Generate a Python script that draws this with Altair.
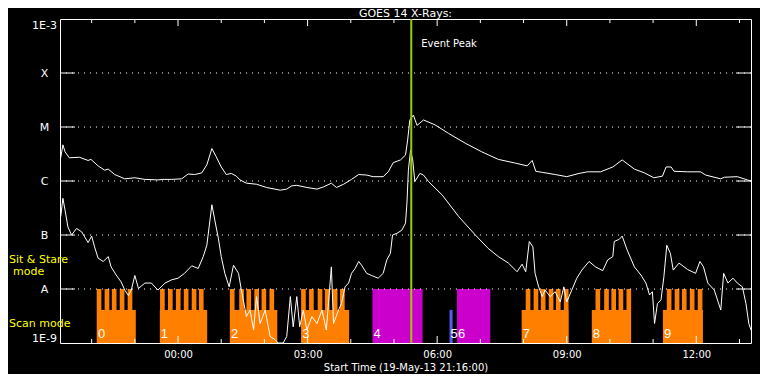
import altair as alt
import numpy as np
import pandas as pd

# ---------------- data ----------------
# time axis: minutes after the start time 19-May-13 21:16:00
# GOES 14 long channel (1-8 A), log10 flux in W/m^2
long_t = [1, 4, 7, 13, 27, 39, 43, 53, 62, 67,
          76, 90, 104, 118, 136, 143, 155, 169, 178, 187,
          197, 204, 211, 217, 224, 231, 238, 245, 250, 259,
          273, 287, 306, 315, 322, 329, 343, 357, 366, 377,
          384, 394, 405, 415, 426, 435, 449, 456, 463, 473,
          480, 483, 486, 491, 496, 505, 521, 540, 563, 586,
          609, 633, 649, 656, 661, 670, 688, 704, 721, 733,
          751, 768, 781, 798, 812, 825, 837, 842, 849, 853,
          872, 890, 897, 918, 923, 941, 955, 960]
long_v = [-5.57, -5.33, -5.46, -5.57, -5.56, -5.62, -5.60, -5.72, -5.80, -5.78,
          -5.88, -5.96, -5.94, -5.97, -5.98, -5.97, -5.97, -5.96, -5.87, -5.88,
          -5.85, -5.70, -5.40, -5.55, -5.74, -5.88, -5.86, -5.91, -5.98, -6.04,
          -6.06, -6.12, -6.17, -6.15, -6.09, -6.08, -6.12, -6.15, -6.11, -6.04,
          -6.12, -6.06, -5.97, -5.88, -5.89, -5.92, -5.92, -5.83, -5.66, -5.61,
          -5.52, -5.24, -4.87, -4.78, -4.97, -4.87, -4.96, -5.12, -5.30, -5.46,
          -5.60, -5.67, -5.72, -5.62, -5.82, -5.84, -5.88, -5.92, -5.86, -5.83,
          -5.83, -5.74, -5.61, -5.78, -5.85, -5.94, -5.91, -5.74, -5.74, -5.82,
          -5.83, -5.83, -5.89, -5.96, -5.93, -5.92, -5.98, -6.00]

# GOES 14 short channel (0.5-4 A), log10 flux in W/m^2
short_t = [1, 4, 7, 11, 16, 23, 30, 39, 44, 48,
           53, 60, 67, 71, 78, 85, 90, 95, 99, 104,
           109, 118, 127, 136, 146, 155, 164, 173, 183, 192,
           199, 204, 211, 215, 220, 224, 229, 235, 241, 248,
           252, 259, 264, 269, 273, 278, 285, 292, 299, 303,
           310, 315, 320, 324, 329, 333, 338, 343, 350, 357,
           364, 370, 377, 380, 387, 391, 396, 401, 405, 410,
           415, 419, 426, 433, 442, 449, 454, 459, 462, 468,
           475, 480, 482, 484, 487, 490, 493, 500, 505, 512,
           531, 554, 577, 595, 609, 623, 635, 642, 647, 652,
           657, 660, 665, 670, 674, 681, 688, 695, 700, 704,
           711, 718, 725, 735, 744, 754, 761, 768, 770, 777,
           781, 788, 798, 807, 814, 819, 823, 826, 830, 835,
           839, 843, 848, 852, 860, 872, 883, 889, 894, 900,
           909, 918, 922, 928, 935, 941, 948, 953, 957, 960]
short_v = [-6.66, -6.32, -6.54, -6.85, -7.00, -6.88, -6.94, -7.14, -7.02, -7.22,
           -7.43, -7.49, -7.40, -7.59, -7.74, -7.87, -8.02, -8.12, -8.02, -7.75,
           -7.99, -7.89, -7.89, -8.02, -7.89, -7.83, -7.80, -7.71, -7.57, -7.62,
           -7.40, -7.19, -6.44, -6.72, -7.06, -7.40, -7.71, -7.96, -7.56, -7.71,
           -8.02, -8.51, -8.39, -8.76, -8.14, -8.64, -8.39, -8.88, -8.94, -9.00,
           -9.00, -8.88, -8.14, -8.70, -8.14, -8.70, -8.39, -8.76, -8.51, -8.64,
           -8.39, -8.76, -7.59, -8.64, -8.39, -8.27, -7.96, -7.89, -7.71, -7.62,
           -7.49, -7.56, -7.71, -7.75, -7.80, -7.71, -7.46, -7.34, -7.00, -6.97,
           -6.91, -6.78, -6.41, -5.80, -5.43, -5.61, -6.01, -5.86, -5.89, -6.01,
           -6.26, -6.66, -7.00, -7.25, -7.40, -7.52, -7.68, -7.54, -7.68, -7.12,
           -7.22, -7.71, -7.96, -8.14, -8.02, -8.14, -8.05, -8.24, -7.96, -8.24,
           -8.02, -7.80, -7.65, -7.49, -7.59, -7.66, -7.46, -7.40, -7.12, -7.08,
           -7.02, -7.28, -7.59, -7.74, -7.89, -8.11, -8.05, -8.64, -8.27, -8.20,
           -7.77, -7.19, -7.34, -7.65, -7.52, -7.64, -7.71, -7.49, -7.59, -7.89,
           -8.02, -8.39, -7.71, -7.89, -7.80, -7.89, -7.96, -8.27, -8.64, -8.76]

# scan-mode blocks (minutes after start)
scan_start = [51.5, 138.7, 236.1, 335.3, 641.4, 738.8, 837.6]
scan_end = [105.3, 204.5, 301.9, 401.7, 706.3, 793.0, 893.2]
scan_teeth = [51, 62, 72, 83, 94,
              139, 150, 161, 172, 183, 193,
              236, 249, 259, 270, 280, 291,
              335, 346, 358, 368, 379, 389,
              647, 658, 668, 679, 689, 700,
              744, 756, 766, 776, 787,
              843, 854, 864, 875, 886]
tooth_len = 6.5
# sit & stare blocks
stare_start = [434.1, 551.4]
stare_end = [503.7, 597.8]
# short pointing (block 5)
other_start = [541.2]
other_end = [545.4]
scan_low_top = 4.1e-9
mode_top = 1e-8

block_labels = ["0", "1", "2", "3", "4", "5", "6", "7", "8", "9"]
block_label_t = [51.5, 138.7, 236.1, 335.3, 434.1, 541.2, 551.4, 641.4, 738.8, 837.6]

event_t = [488]
event_label = ["Event Peak"]

# axis
start_clock_min = 21 * 60 + 16
tick_hours = [22, 23, 0, 1, 2, 3, 4, 5, 6, 7, 8, 9, 10, 11, 12, 13]
major_hours = [0, 3, 6, 9, 12]
level_values = [1e-9, 1e-8, 1e-7, 1e-6, 1e-5, 1e-4, 1e-3]
level_names = ["1E-9", "A", "B", "C", "M", "X", "1E-3"]
grid_levels = [1e-8, 1e-7, 1e-6, 1e-5, 1e-4]

# ---------------- chart ----------------
W, H = 691, 324
FONT = "DejaVu Sans"
ORANGE = "#FF8000"
MAGENTA = "#CC00CC"
BLUE = "#5A5AEE"
GREEN = "#99CC00"
YELLOW = "#FFFF00"


def to_min(h):
    return (h * 60 - start_clock_min) % 1440


major_t = [to_min(h) for h in major_hours]
minor_t = [to_min(h) for h in tick_hours if h not in major_hours]

xs = alt.Scale(domain=[0, 960], nice=False, zero=False)
ys = alt.Scale(type="log", domain=[1e-9, 1e-3], nice=False)

x_axis = alt.Axis(
    values=major_t,
    labelExpr="timeFormat(datetime(2013,4,19,21,16+datum.value),'%H:%M')",
    ticks=False, domain=False, grid=False,
    labelColor="white", labelFont=FONT, labelFontSize=10, labelPadding=6,
    title="Start Time (19-May-13 21:16:00)", titleColor="white", titleFont=FONT,
    titleFontSize=10, titleFontWeight="normal", titlePadding=3,
)
names_js = "[" + ",".join("'%s'" % n for n in level_names) + "]"
y_axis = alt.Axis(
    values=level_values,
    labelExpr=names_js + "[round(log(datum.value)/LN10)+9]",
    ticks=False, domain=False, grid=False,
    labelColor="white", labelFont=FONT, labelFontSize=11,
    labelAlign="center", labelPadding=16, labelFlush=True, title=None,
)


def X(field):
    return alt.X(field, scale=xs, axis=x_axis)


def Y(field):
    return alt.Y(field, scale=ys, axis=y_axis)


long_df = pd.DataFrame({"t": long_t, "flux": 10.0 ** np.array(long_v)})
short_df = pd.DataFrame({"t": short_t, "flux": 10.0 ** np.array(short_v)})

scan_df = pd.DataFrame({"a": scan_start, "b": scan_end, "lo": 1e-9, "hi": scan_low_top})
teeth_df = pd.DataFrame({"a": scan_teeth, "b": [t + tooth_len for t in scan_teeth],
                         "lo": 1e-9, "hi": mode_top})
stare_df = pd.DataFrame({"a": stare_start, "b": stare_end, "lo": 1e-9, "hi": mode_top})
other_df = pd.DataFrame({"a": other_start, "b": other_end, "lo": 1e-9, "hi": scan_low_top})


def rects(df, color):
    return alt.Chart(df).mark_rect(color=color).encode(
        x=X("a:Q"), x2="b:Q", y=Y("lo:Q"), y2="hi:Q",
    )


grid_df = pd.DataFrame({"lev": grid_levels})
grid = alt.Chart(grid_df).mark_rule(color="white", strokeDash=[1, 5], strokeWidth=1).encode(
    y=Y("lev:Q"), x=alt.value(0), x2=alt.value(W))
lticks = alt.Chart(grid_df).mark_rule(color="white", strokeWidth=1).encode(
    y=Y("lev:Q"), x=alt.value(0), x2=alt.value(15))
rticks = alt.Chart(grid_df).mark_rule(color="white", strokeWidth=1).encode(
    y=Y("lev:Q"), x=alt.value(W - 15), x2=alt.value(W))

major_df = pd.DataFrame({"t": major_t})
minor_df = pd.DataFrame({"t": minor_t})


def tick_rules(df, y1, y2):
    return alt.Chart(df).mark_rule(color="white", strokeWidth=1).encode(
        x=X("t:Q"), y=alt.value(y1), y2=alt.value(y2))


short_line = alt.Chart(short_df).mark_line(color="white", strokeWidth=1, clip=True).encode(
    x=X("t:Q"), y=Y("flux:Q"))
long_line = alt.Chart(long_df).mark_line(color="white", strokeWidth=1, clip=True).encode(
    x=X("t:Q"), y=Y("flux:Q"))

event_df = pd.DataFrame({"t": event_t, "label": event_label})
event_rule = alt.Chart(event_df).mark_rule(color=GREEN, strokeWidth=2).encode(x=X("t:Q"))
event_text = alt.Chart(event_df).mark_text(
    align="left", baseline="alphabetic", dx=10, color="white", font=FONT, fontSize=10
).encode(x=X("t:Q"), y=alt.value(28), text="label:N")

blk_df = pd.DataFrame({"t": block_label_t, "label": block_labels})
blk_text = alt.Chart(blk_df).mark_text(
    align="left", baseline="alphabetic", dx=1, color="white",
    font="Liberation Sans", fontSize=13
).encode(x=X("t:Q"), y=alt.value(319), text="label:N")


def free_text(txt, xv, yv, size, color, align="left"):
    return alt.Chart(pd.DataFrame({"label": [txt]})).mark_text(
        align=align, baseline="alphabetic", color=color, font=FONT, fontSize=size
    ).encode(x=alt.value(xv), y=alt.value(yv), text="label:N")


chart = alt.layer(
    rects(scan_df, ORANGE), rects(teeth_df, ORANGE), rects(stare_df, MAGENTA),
    rects(other_df, BLUE),
    grid, lticks, rticks,
    tick_rules(major_df, H, H - 7), tick_rules(minor_df, H, H - 4),
    tick_rules(major_df, 0, 7), tick_rules(minor_df, 0, 4),
    short_line, long_line, event_rule, event_text, blk_text,
    free_text("GOES 14 X-Rays:", W / 2, -2, 11, "white", "center"),
    free_text("Sit & Stare", -51, 244, 11, YELLOW), free_text("mode", -47, 256, 11, YELLOW),
    free_text("Scan mode", -51, 308, 11, YELLOW),
).properties(
    width=W, height=H,
    autosize=alt.AutoSizeParams(type="none"),
    padding={"left": 52, "top": 11, "right": 9, "bottom": 31},
    background="black",
).configure_view(stroke="white", strokeWidth=1)

chart.save("out.html", embed_options={"renderer": "svg", "actions": False})
